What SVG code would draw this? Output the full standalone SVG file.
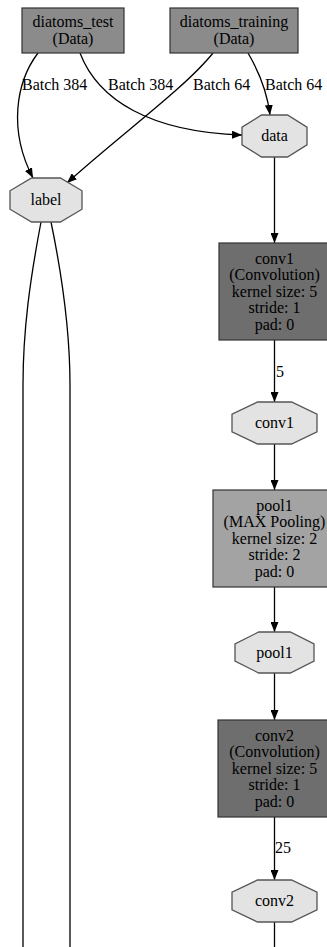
<svg xmlns="http://www.w3.org/2000/svg" width="327" height="947" viewBox="0 0 327 947">
<defs>
<marker id="arr" markerUnits="userSpaceOnUse" markerWidth="11" markerHeight="8" refX="10" refY="4" orient="auto">
<path d="M0,0 L10,4 L0,8 z" fill="#000"/>
</marker>
<style>
text{font-family:"Liberation Serif","DejaVu Serif",serif;font-size:16px;fill:#000;}
.c{text-anchor:middle;}
.data{fill:#8b8b8b;stroke:#333;stroke-width:1.2;}
.conv{fill:#6e6e6e;stroke:#333;stroke-width:1.2;}
.pool{fill:#a3a3a3;stroke:#333;stroke-width:1.2;}
.blob{fill:#e3e3e3;stroke:#555;stroke-width:1.3;}
.e{fill:none;stroke:#000;stroke-width:1.3;}
.ea{fill:none;stroke:#000;stroke-width:1.3;marker-end:url(#arr);}
</style>
</defs>
<rect width="327" height="947" fill="#fff"/>
<g id="edges">
<path class="ea" d="M38,53 C16,82 8,130 33,178"/>
<path class="ea" d="M80,53 C98,100 150,132 242,135"/>
<path class="ea" d="M213,53 C185,88 120,135 67,183"/>
<path class="ea" d="M248,53 C258,70 267,90 270,115"/>
<path class="e" d="M41,222 C30,280 23,330 23,385 L23,947"/>
<path class="e" d="M51,222 C63,280 70,330 70,385 L70,947"/>
<path class="ea" d="M274.5,157 L274.5,243"/>
<path class="ea" d="M274.5,340 L274.5,402"/>
<path class="ea" d="M274.5,444 L274.5,490"/>
<path class="ea" d="M274.5,587 L274.5,632"/>
<path class="ea" d="M274.5,673 L274.5,720"/>
<path class="ea" d="M274.5,817 L274.5,880"/>
<path class="e" d="M274.5,922 L274.5,947"/>
<text x="22" y="90">Batch 384</text>
<text x="108" y="90">Batch 384</text>
<text x="193" y="90">Batch 64</text>
<text x="265" y="90">Batch 64</text>
<text x="276" y="377">5</text>
<text x="275" y="853">25</text>
</g>
<g id="diatoms_test">
<rect class="data" x="22" y="8" width="102" height="45"/>
<text class="c" x="73" y="27">diatoms_test</text>
<text class="c" x="73" y="44">(Data)</text>
</g>
<g id="diatoms_training">
<rect class="data" x="170" y="8" width="128" height="45"/>
<text class="c" x="234" y="27">diatoms_training</text>
<text class="c" x="234" y="44">(Data)</text>
</g>
<g id="data">
<polygon class="blob" points="261.5,115 287.5,115 307,127.2 307,144.8 287.5,157 261.5,157 242,144.8 242,127.2"/>
<text class="c" x="274.5" y="141">data</text>
</g>
<g id="label">
<polygon class="blob" points="31.6,178 60.4,178 82,190.8 82,209.2 60.4,222 31.6,222 10,209.2 10,190.8"/>
<text class="c" x="46" y="205">label</text>
</g>
<g id="conv1">
<rect class="conv" x="219" y="243" width="111" height="97"/>
<text class="c" x="274.5" y="263.5">conv1</text>
<text class="c" x="274.5" y="280">(Convolution)</text>
<text class="c" x="274.5" y="296.5">kernel size: 5</text>
<text class="c" x="274.5" y="313">stride: 1</text>
<text class="c" x="274.5" y="329.5">pad: 0</text>
</g>
<g id="conv1_blob">
<polygon class="blob" points="257.5,402 291.5,402 317,414.2 317,431.8 291.5,444 257.5,444 232,431.8 232,414.2"/>
<text class="c" x="274.5" y="428">conv1</text>
</g>
<g id="pool1">
<rect class="pool" x="213" y="490" width="123" height="97"/>
<text class="c" x="274.5" y="510.5">pool1</text>
<text class="c" x="274.5" y="527">(MAX Pooling)</text>
<text class="c" x="274.5" y="543.5">kernel size: 2</text>
<text class="c" x="274.5" y="560">stride: 2</text>
<text class="c" x="274.5" y="576.5">pad: 0</text>
</g>
<g id="pool1_blob">
<polygon class="blob" points="258.7,632 290.3,632 314,643.9 314,661.1 290.3,673 258.7,673 235,661.1 235,643.9"/>
<text class="c" x="274.5" y="657.5">pool1</text>
</g>
<g id="conv2">
<rect class="conv" x="218" y="720" width="113" height="97"/>
<text class="c" x="274.5" y="740.5">conv2</text>
<text class="c" x="274.5" y="757">(Convolution)</text>
<text class="c" x="274.5" y="773.5">kernel size: 5</text>
<text class="c" x="274.5" y="790">stride: 1</text>
<text class="c" x="274.5" y="806.5">pad: 0</text>
</g>
<g id="conv2_blob">
<polygon class="blob" points="257.5,880 291.5,880 317,892.2 317,909.8 291.5,922 257.5,922 232,909.8 232,892.2"/>
<text class="c" x="274.5" y="906">conv2</text>
</g>
</svg>
